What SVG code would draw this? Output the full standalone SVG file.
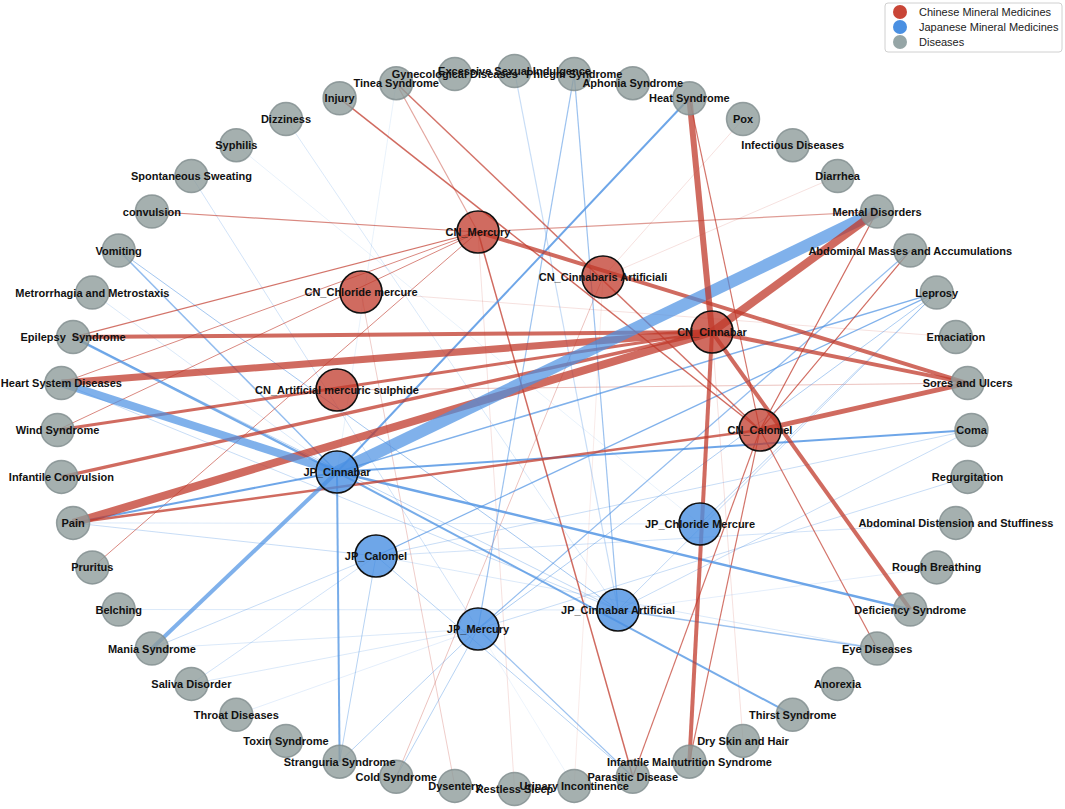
<svg xmlns="http://www.w3.org/2000/svg" width="1065" height="809" viewBox="0 0 1065 809">
<style>
.r{stroke:#c0392b;fill:none}
.b{stroke:#4a90e2;fill:none}
.dis circle{fill:#8f9c9b;fill-opacity:0.8;stroke:#7f8c8d;stroke-opacity:0.8;stroke-width:1.5}
.cn circle{fill:#c0392b;fill-opacity:0.75;stroke:#111;stroke-width:1.6}
.jp circle{fill:#4a90e2;fill-opacity:0.8;stroke:#111;stroke-width:1.6}
text{font-family:"Liberation Sans",Arial,Helvetica,sans-serif;fill:#111}
.lbl{font-weight:bold;font-size:11px;text-anchor:middle}
.leg{font-size:11px;fill:#222}
</style>
<rect width="1065" height="809" fill="#fff"/>
<g id="connectors">
<line class="r" x1="603" y1="277" x2="743" y2="119.1" stroke-width="1" stroke-opacity="0.15"/>
<line class="r" x1="603" y1="277" x2="837.6" y2="176.1" stroke-width="1" stroke-opacity="0.15"/>
<line class="r" x1="603" y1="277" x2="396.2" y2="776.8" stroke-width="1" stroke-opacity="0.3"/>
<line class="r" x1="603" y1="277" x2="574.2" y2="785.9" stroke-width="1" stroke-opacity="0.1"/>
<line class="r" x1="361" y1="292" x2="454.8" y2="785.9" stroke-width="1" stroke-opacity="0.25"/>
<line class="r" x1="361" y1="292" x2="955.9" y2="337.1" stroke-width="1" stroke-opacity="0.15"/>
<line class="r" x1="337" y1="390" x2="967.6" y2="383.1" stroke-width="1" stroke-opacity="0.3"/>
<line class="r" x1="478" y1="232" x2="514.5" y2="789" stroke-width="1" stroke-opacity="0.15"/>
<line class="r" x1="712" y1="332" x2="743" y2="740.9" stroke-width="1" stroke-opacity="0.15"/>
<line class="b" x1="337" y1="472" x2="396.2" y2="83.2" stroke-width="1" stroke-opacity="0.12"/>
<line class="b" x1="337" y1="472" x2="92.3" y2="292.6" stroke-width="1" stroke-opacity="0.2"/>
<line class="b" x1="618" y1="610" x2="514.5" y2="71" stroke-width="1.2" stroke-opacity="0.3"/>
<line class="b" x1="618" y1="610" x2="118.7" y2="609.5" stroke-width="1" stroke-opacity="0.2"/>
<line class="b" x1="618" y1="610" x2="936.7" y2="292.6" stroke-width="1" stroke-opacity="0.35"/>
<line class="b" x1="618" y1="610" x2="971.5" y2="430" stroke-width="1" stroke-opacity="0.3"/>
<line class="b" x1="618" y1="610" x2="286" y2="119.1" stroke-width="1" stroke-opacity="0.2"/>
<line class="b" x1="618" y1="610" x2="118.7" y2="250.5" stroke-width="1" stroke-opacity="0.5"/>
<line class="b" x1="618" y1="610" x2="73.1" y2="337.1" stroke-width="1" stroke-opacity="0.35"/>
<line class="b" x1="618" y1="610" x2="61.4" y2="383.1" stroke-width="1" stroke-opacity="0.3"/>
<line class="b" x1="618" y1="610" x2="936.7" y2="567.4" stroke-width="1" stroke-opacity="0.15"/>
<line class="b" x1="376" y1="556" x2="971.5" y2="430" stroke-width="1" stroke-opacity="0.3"/>
<line class="b" x1="376" y1="556" x2="73.1" y2="522.9" stroke-width="1" stroke-opacity="0.3"/>
<line class="b" x1="376" y1="556" x2="151.9" y2="648.5" stroke-width="1" stroke-opacity="0.3"/>
<line class="b" x1="376" y1="556" x2="191.4" y2="683.9" stroke-width="1" stroke-opacity="0.25"/>
<line class="b" x1="376" y1="556" x2="339.6" y2="761.7" stroke-width="1" stroke-opacity="0.4"/>
<line class="b" x1="376" y1="556" x2="955.9" y2="522.9" stroke-width="1" stroke-opacity="0.25"/>
<line class="b" x1="376" y1="556" x2="632.8" y2="776.8" stroke-width="1" stroke-opacity="0.4"/>
<line class="b" x1="376" y1="556" x2="877.1" y2="648.5" stroke-width="1" stroke-opacity="0.2"/>
<line class="b" x1="478" y1="629" x2="936.7" y2="292.6" stroke-width="1" stroke-opacity="0.45"/>
<line class="b" x1="478" y1="629" x2="151.9" y2="648.5" stroke-width="1" stroke-opacity="0.2"/>
<line class="b" x1="478" y1="629" x2="191.4" y2="683.9" stroke-width="1" stroke-opacity="0.2"/>
<line class="b" x1="478" y1="629" x2="339.6" y2="761.7" stroke-width="1" stroke-opacity="0.4"/>
<line class="b" x1="478" y1="629" x2="396.2" y2="776.8" stroke-width="1" stroke-opacity="0.4"/>
<line class="b" x1="478" y1="629" x2="967.6" y2="476.9" stroke-width="1" stroke-opacity="0.3"/>
<line class="b" x1="478" y1="629" x2="191.4" y2="176.1" stroke-width="1" stroke-opacity="0.25"/>
<line class="b" x1="478" y1="629" x2="236.3" y2="714.8" stroke-width="1" stroke-opacity="0.15"/>
<line class="b" x1="478" y1="629" x2="574.2" y2="785.9" stroke-width="1" stroke-opacity="0.1"/>
<line class="b" x1="700" y1="524" x2="936.7" y2="292.6" stroke-width="1" stroke-opacity="0.4"/>
<line class="b" x1="700" y1="524" x2="73.1" y2="522.9" stroke-width="1" stroke-opacity="0.2"/>
<line class="b" x1="700" y1="524" x2="236.3" y2="145.2" stroke-width="1" stroke-opacity="0.12"/>
<line class="b" x1="618" y1="610" x2="574.2" y2="74.1" stroke-width="1.2" stroke-opacity="0.55"/>
<line class="b" x1="478" y1="629" x2="574.2" y2="74.1" stroke-width="1.2" stroke-opacity="0.55"/>
<line class="b" x1="618" y1="610" x2="877.1" y2="648.5" stroke-width="1.5" stroke-opacity="0.55"/>
<line class="b" x1="376" y1="556" x2="936.7" y2="292.6" stroke-width="1.2" stroke-opacity="0.7"/>
<line class="b" x1="478" y1="629" x2="632.8" y2="776.8" stroke-width="1.2" stroke-opacity="0.55"/>
<line class="b" x1="478" y1="629" x2="910.3" y2="250.5" stroke-width="1.2" stroke-opacity="0.6"/>
<line class="b" x1="337" y1="472" x2="118.7" y2="250.5" stroke-width="1.5" stroke-opacity="0.6"/>
<line class="b" x1="337" y1="472" x2="936.7" y2="292.6" stroke-width="1.5" stroke-opacity="0.7"/>
<line class="r" x1="478" y1="232" x2="151.9" y2="211.5" stroke-width="1.2" stroke-opacity="0.6"/>
<line class="r" x1="478" y1="232" x2="877.1" y2="211.5" stroke-width="1.2" stroke-opacity="0.5"/>
<line class="r" x1="478" y1="232" x2="73.1" y2="337.1" stroke-width="1.2" stroke-opacity="0.7"/>
<line class="r" x1="478" y1="232" x2="61.4" y2="383.1" stroke-width="1" stroke-opacity="0.6"/>
<line class="r" x1="478" y1="232" x2="57.5" y2="430" stroke-width="1" stroke-opacity="0.6"/>
<line class="r" x1="478" y1="232" x2="92.3" y2="567.4" stroke-width="1" stroke-opacity="0.6"/>
<line class="r" x1="478" y1="232" x2="396.2" y2="83.2" stroke-width="1.2" stroke-opacity="0.45"/>
<line class="r" x1="478" y1="232" x2="632.8" y2="776.8" stroke-width="1.5" stroke-opacity="0.75"/>
<line class="r" x1="760" y1="430" x2="339.6" y2="98.3" stroke-width="1.5" stroke-opacity="0.75"/>
<line class="r" x1="760" y1="430" x2="396.2" y2="83.2" stroke-width="1.5" stroke-opacity="0.7"/>
<line class="r" x1="760" y1="430" x2="689.4" y2="98.3" stroke-width="1.2" stroke-opacity="0.7"/>
<line class="r" x1="760" y1="430" x2="910.3" y2="250.5" stroke-width="1.2" stroke-opacity="0.75"/>
<line class="r" x1="760" y1="430" x2="877.1" y2="211.5" stroke-width="1.2" stroke-opacity="0.75"/>
<line class="r" x1="760" y1="430" x2="877.1" y2="648.5" stroke-width="1.2" stroke-opacity="0.7"/>
<line class="r" x1="760" y1="430" x2="632.8" y2="776.8" stroke-width="1.2" stroke-opacity="0.7"/>
<line class="r" x1="760" y1="430" x2="689.4" y2="761.7" stroke-width="1.2" stroke-opacity="0.7"/>
<line class="b" x1="337" y1="472" x2="689.4" y2="98.3" stroke-width="2" stroke-opacity="0.8"/>
<line class="b" x1="337" y1="472" x2="971.5" y2="430" stroke-width="2" stroke-opacity="0.8"/>
<line class="b" x1="337" y1="472" x2="73.1" y2="522.9" stroke-width="2" stroke-opacity="0.8"/>
<line class="b" x1="337" y1="472" x2="910.3" y2="609.5" stroke-width="2.5" stroke-opacity="0.8"/>
<line class="b" x1="337" y1="472" x2="339.6" y2="761.7" stroke-width="2" stroke-opacity="0.75"/>
<line class="b" x1="337" y1="472" x2="792.7" y2="714.8" stroke-width="2" stroke-opacity="0.75"/>
<line class="b" x1="337" y1="472" x2="73.1" y2="337.1" stroke-width="2.5" stroke-opacity="0.75"/>
<line class="r" x1="760" y1="430" x2="73.1" y2="522.9" stroke-width="2.5" stroke-opacity="0.75"/>
<line class="r" x1="478" y1="232" x2="967.6" y2="383.1" stroke-width="4" stroke-opacity="0.75"/>
<line class="r" x1="760" y1="430" x2="967.6" y2="383.1" stroke-width="5" stroke-opacity="0.75"/>
<line class="r" x1="712" y1="332" x2="73.1" y2="337.1" stroke-width="4" stroke-opacity="0.75"/>
<line class="r" x1="712" y1="332" x2="57.5" y2="430" stroke-width="3" stroke-opacity="0.75"/>
<line class="r" x1="712" y1="332" x2="61.4" y2="476.9" stroke-width="3.5" stroke-opacity="0.75"/>
<line class="r" x1="712" y1="332" x2="61.4" y2="383.1" stroke-width="7" stroke-opacity="0.75"/>
<line class="r" x1="712" y1="332" x2="73.1" y2="522.9" stroke-width="8" stroke-opacity="0.75"/>
<line class="r" x1="712" y1="332" x2="967.6" y2="383.1" stroke-width="4" stroke-opacity="0.75"/>
<line class="r" x1="712" y1="332" x2="910.3" y2="609.5" stroke-width="4" stroke-opacity="0.75"/>
<line class="r" x1="712" y1="332" x2="689.4" y2="761.7" stroke-width="4" stroke-opacity="0.75"/>
<line class="b" x1="337" y1="472" x2="151.9" y2="648.5" stroke-width="4" stroke-opacity="0.7"/>
<line class="b" x1="337" y1="472" x2="61.4" y2="383.1" stroke-width="8" stroke-opacity="0.7"/>
<line class="b" x1="337" y1="472" x2="877.1" y2="211.5" stroke-width="12" stroke-opacity="0.7"/>
<line class="r" x1="712" y1="332" x2="877.1" y2="211.5" stroke-width="8" stroke-opacity="0.75"/>
<line class="r" x1="712" y1="332" x2="689.4" y2="98.3" stroke-width="6" stroke-opacity="0.75"/>
</g>
<g id="disease-nodes">
<g id="n-excessive-sexual-indulgence" class="dis"><circle cx="514.5" cy="71" r="16.5"/></g>
<g id="n-gynecological-diseases" class="dis"><circle cx="454.8" cy="74.1" r="16.5"/></g>
<g id="n-phlegm-syndrome" class="dis"><circle cx="574.2" cy="74.1" r="16.5"/></g>
<g id="n-aphonia-syndrome" class="dis"><circle cx="632.8" cy="83.2" r="16.5"/></g>
<g id="n-tinea-syndrome" class="dis"><circle cx="396.2" cy="83.2" r="16.5"/></g>
<g id="n-heat-syndrome" class="dis"><circle cx="689.4" cy="98.3" r="16.5"/></g>
<g id="n-injury" class="dis"><circle cx="339.6" cy="98.3" r="16.5"/></g>
<g id="n-pox" class="dis"><circle cx="743" cy="119.1" r="16.5"/></g>
<g id="n-infectious-diseases" class="dis"><circle cx="792.7" cy="145.2" r="16.5"/></g>
<g id="n-diarrhea" class="dis"><circle cx="837.6" cy="176.1" r="16.5"/></g>
<g id="n-mental-disorders" class="dis"><circle cx="877.1" cy="211.5" r="16.5"/></g>
<g id="n-abdominal-masses" class="dis"><circle cx="910.3" cy="250.5" r="16.5"/></g>
<g id="n-leprosy" class="dis"><circle cx="936.7" cy="292.6" r="16.5"/></g>
<g id="n-emaciation" class="dis"><circle cx="955.9" cy="337.1" r="16.5"/></g>
<g id="n-sores-and-ulcers" class="dis"><circle cx="967.6" cy="383.1" r="16.5"/></g>
<g id="n-coma" class="dis"><circle cx="971.5" cy="430" r="16.5"/></g>
<g id="n-regurgitation" class="dis"><circle cx="967.6" cy="476.9" r="16.5"/></g>
<g id="n-abdominal-distension" class="dis"><circle cx="955.9" cy="522.9" r="16.5"/></g>
<g id="n-rough-breathing" class="dis"><circle cx="936.7" cy="567.4" r="16.5"/></g>
<g id="n-deficiency-syndrome" class="dis"><circle cx="910.3" cy="609.5" r="16.5"/></g>
<g id="n-eye-diseases" class="dis"><circle cx="877.1" cy="648.5" r="16.5"/></g>
<g id="n-anorexia" class="dis"><circle cx="837.6" cy="683.9" r="16.5"/></g>
<g id="n-thirst-syndrome" class="dis"><circle cx="792.7" cy="714.8" r="16.5"/></g>
<g id="n-dry-skin-and-hair" class="dis"><circle cx="743" cy="740.9" r="16.5"/></g>
<g id="n-infantile-malnutrition" class="dis"><circle cx="689.4" cy="761.7" r="16.5"/></g>
<g id="n-parasitic-disease" class="dis"><circle cx="632.8" cy="776.8" r="16.5"/></g>
<g id="n-urinary-incontinence" class="dis"><circle cx="574.2" cy="785.9" r="16.5"/></g>
<g id="n-restless-sleep" class="dis"><circle cx="514.5" cy="789" r="16.5"/></g>
<g id="n-dysentery" class="dis"><circle cx="454.8" cy="785.9" r="16.5"/></g>
<g id="n-cold-syndrome" class="dis"><circle cx="396.2" cy="776.8" r="16.5"/></g>
<g id="n-stranguria-syndrome" class="dis"><circle cx="339.6" cy="761.7" r="16.5"/></g>
<g id="n-toxin-syndrome" class="dis"><circle cx="286" cy="740.9" r="16.5"/></g>
<g id="n-throat-diseases" class="dis"><circle cx="236.3" cy="714.8" r="16.5"/></g>
<g id="n-saliva-disorder" class="dis"><circle cx="191.4" cy="683.9" r="16.5"/></g>
<g id="n-mania-syndrome" class="dis"><circle cx="151.9" cy="648.5" r="16.5"/></g>
<g id="n-belching" class="dis"><circle cx="118.7" cy="609.5" r="16.5"/></g>
<g id="n-pruritus" class="dis"><circle cx="92.3" cy="567.4" r="16.5"/></g>
<g id="n-pain" class="dis"><circle cx="73.1" cy="522.9" r="16.5"/></g>
<g id="n-infantile-convulsion" class="dis"><circle cx="61.4" cy="476.9" r="16.5"/></g>
<g id="n-wind-syndrome" class="dis"><circle cx="57.5" cy="430" r="16.5"/></g>
<g id="n-heart-system-diseases" class="dis"><circle cx="61.4" cy="383.1" r="16.5"/></g>
<g id="n-epilepsy-syndrome" class="dis"><circle cx="73.1" cy="337.1" r="16.5"/></g>
<g id="n-metrorrhagia" class="dis"><circle cx="92.3" cy="292.6" r="16.5"/></g>
<g id="n-vomiting" class="dis"><circle cx="118.7" cy="250.5" r="16.5"/></g>
<g id="n-convulsion" class="dis"><circle cx="151.9" cy="211.5" r="16.5"/></g>
<g id="n-spontaneous-sweating" class="dis"><circle cx="191.4" cy="176.1" r="16.5"/></g>
<g id="n-syphilis" class="dis"><circle cx="236.3" cy="145.2" r="16.5"/></g>
<g id="n-dizziness" class="dis"><circle cx="286" cy="119.1" r="16.5"/></g>
</g>
<g id="medicine-nodes">
<g id="n-cn-mercury" class="cn"><circle cx="478" cy="232" r="21"/></g>
<g id="n-cn-cinnabaris-artificiali" class="cn"><circle cx="603" cy="277" r="21"/></g>
<g id="n-cn-cinnabar" class="cn"><circle cx="712" cy="332" r="21"/></g>
<g id="n-cn-calomel" class="cn"><circle cx="760" cy="430" r="21"/></g>
<g id="n-cn-chloride-mercure" class="cn"><circle cx="361" cy="292" r="21"/></g>
<g id="n-cn-artificial-mercuric-sulphide" class="cn"><circle cx="337" cy="390" r="21"/></g>
<g id="n-jp-cinnabar" class="jp"><circle cx="337" cy="472" r="21"/></g>
<g id="n-jp-calomel" class="jp"><circle cx="376" cy="556" r="21"/></g>
<g id="n-jp-mercury" class="jp"><circle cx="478" cy="629" r="21"/></g>
<g id="n-jp-cinnabar-artificial" class="jp"><circle cx="618" cy="610" r="21"/></g>
<g id="n-jp-chloride-mercure" class="jp"><circle cx="700" cy="524" r="21"/></g>
</g>
<g id="node-labels" class="lbl">
<text x="514.5" y="75">Excessive Sexual Indulgence</text>
<text x="454.8" y="78.1">Gynecological Diseases</text>
<text x="574.2" y="78.1">Phlegm Syndrome</text>
<text x="632.8" y="87.2">Aphonia Syndrome</text>
<text x="396.2" y="87.2">Tinea Syndrome</text>
<text x="689.4" y="102.3">Heat Syndrome</text>
<text x="339.6" y="102.3">Injury</text>
<text x="743" y="123.1">Pox</text>
<text x="792.7" y="149.2">Infectious Diseases</text>
<text x="837.6" y="180.1">Diarrhea</text>
<text x="877.1" y="215.5">Mental Disorders</text>
<text x="910.3" y="254.5">Abdominal Masses and Accumulations</text>
<text x="936.7" y="296.6">Leprosy</text>
<text x="955.9" y="341.1">Emaciation</text>
<text x="967.6" y="387.1">Sores and Ulcers</text>
<text x="971.5" y="434">Coma</text>
<text x="967.6" y="480.9">Regurgitation</text>
<text x="955.9" y="526.9">Abdominal Distension and Stuffiness</text>
<text x="936.7" y="571.4">Rough Breathing</text>
<text x="910.3" y="613.5">Deficiency Syndrome</text>
<text x="877.1" y="652.5">Eye Diseases</text>
<text x="837.6" y="687.9">Anorexia</text>
<text x="792.7" y="718.8">Thirst Syndrome</text>
<text x="743" y="744.9">Dry Skin and Hair</text>
<text x="689.4" y="765.7">Infantile Malnutrition Syndrome</text>
<text x="632.8" y="780.8">Parasitic Disease</text>
<text x="574.2" y="789.9">Urinary Incontinence</text>
<text x="514.5" y="793">Restless Sleep</text>
<text x="454.8" y="789.9">Dysentery</text>
<text x="396.2" y="780.8">Cold Syndrome</text>
<text x="339.6" y="765.7">Stranguria Syndrome</text>
<text x="286" y="744.9">Toxin Syndrome</text>
<text x="236.3" y="718.8">Throat Diseases</text>
<text x="191.4" y="687.9">Saliva Disorder</text>
<text x="151.9" y="652.5">Mania Syndrome</text>
<text x="118.7" y="613.5">Belching</text>
<text x="92.3" y="571.4">Pruritus</text>
<text x="73.1" y="526.9">Pain</text>
<text x="61.4" y="480.9">Infantile Convulsion</text>
<text x="57.5" y="434">Wind Syndrome</text>
<text x="61.4" y="387.1">Heart System Diseases</text>
<text x="73.1" y="341.1" xml:space="preserve">Epilepsy  Syndrome</text>
<text x="92.3" y="296.6">Metrorrhagia and Metrostaxis</text>
<text x="118.7" y="254.5">Vomiting</text>
<text x="151.9" y="215.5">convulsion</text>
<text x="191.4" y="180.1">Spontaneous Sweating</text>
<text x="236.3" y="149.2">Syphilis</text>
<text x="286" y="123.1">Dizziness</text>
<text x="478" y="236">CN_Mercury</text>
<text x="603" y="281">CN_Cinnabaris Artificiali</text>
<text x="712" y="336">CN_Cinnabar</text>
<text x="760" y="434">CN_Calomel</text>
<text x="361" y="296">CN_Chloride mercure</text>
<text x="337" y="394">CN_Artificial mercuric sulphide</text>
<text x="337" y="476">JP_Cinnabar</text>
<text x="376" y="560">JP_Calomel</text>
<text x="478" y="633">JP_Mercury</text>
<text x="618" y="614">JP_Cinnabar Artificial</text>
<text x="700" y="528">JP_Chloride Mercure</text>
</g>
<g id="legend">
<rect x="885" y="3" width="177" height="49" rx="3" fill="#fff" fill-opacity="0.9" stroke="#d0d0d0"/>
<circle cx="900" cy="12" r="7" fill="#c94536"/>
<circle cx="900" cy="27" r="7" fill="#4a90e2"/>
<circle cx="900" cy="42" r="7" fill="#95a5a6"/>
<text class="leg" x="919" y="16">Chinese Mineral Medicines</text>
<text class="leg" x="919" y="31">Japanese Mineral Medicines</text>
<text class="leg" x="919" y="46">Diseases</text>
</g>
</svg>
